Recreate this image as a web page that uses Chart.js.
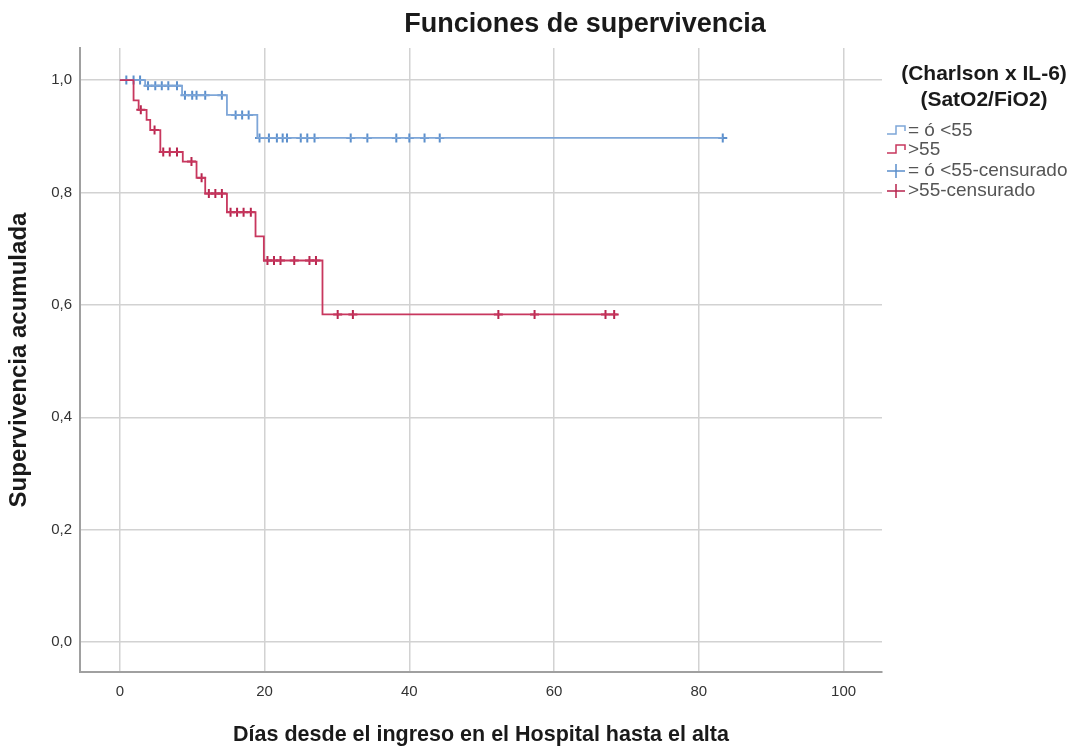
<!DOCTYPE html>
<html>
<head>
<meta charset="utf-8">
<script src="https://cdn.jsdelivr.net/npm/chart.js@4.4.1/dist/chart.umd.min.js"></script>
<style>
  html, body { margin: 0; padding: 0; background: #fff; }
</style>
</head>
<body>
<canvas id="graficoSupervivencia" width="1082" height="753"></canvas>
<script>
// grupo "= ó <55": tiempos de evento y supervivencia acumulada
const tiemposBajo = [0, 3.5, 8.6, 14.8, 19.0, 83.3];
const supervBajo = [1.0, 0.990, 0.973, 0.938, 0.897, 0.897];
const censuraBajo = [0.9, 1.9, 2.8, 3.9, 4.9, 5.8, 6.7, 7.9, 9.0, 10.0, 10.6, 11.8, 14.1,
    16.0, 16.9, 17.8, 19.3, 20.6, 21.7, 22.5, 23.1, 25.0, 25.9, 26.9, 31.9, 34.2, 38.2,
    40.0, 42.1, 44.2, 83.3];

// grupo ">55"
const tiemposAlto = [0, 1.9, 2.6, 3.7, 4.2, 5.6, 8.7, 10.6, 11.8, 14.8, 18.75, 19.9, 28.0, 68.75];
const supervAlto = [1.0, 0.964, 0.947, 0.929, 0.911, 0.872, 0.855, 0.826, 0.798, 0.765, 0.722, 0.679, 0.583, 0.583];
const censuraAlto = [2.9, 4.8, 6.0, 6.9, 7.9, 9.9, 11.3, 12.3, 13.2, 14.1, 15.3, 16.2, 17.1, 18.1,
    20.4, 21.3, 22.2, 24.1, 26.2, 27.1, 30.1, 32.2, 52.3, 57.3, 67.1, 68.3];

const ticksX = [0, 20, 40, 60, 80, 100];
const ticksY = [0, 0.2, 0.4, 0.6, 0.8, 1.0];
const etiquetas = ["= ó <55", ">55", "= ó <55-censurado", ">55-censurado"];

const azulLinea = "#7ea6d8";
const azulMarca = "#5b8fcc";
const rojoLinea = "#c8375e";
const rojoMarca = "#b8254e";

function supervEn(tiempos, superv, t) {
    let v = superv[0];
    for (let i = 0; i < tiempos.length; i++) {
        if (tiempos[i] <= t) v = superv[i];
    }
    return v;
}

function puntos(tiempos, superv) {
    return tiempos.map((t, i) => ({ x: t, y: superv[i] }));
}

function marcas(censuras, tiempos, superv) {
    return censuras.map(t => ({ x: t, y: supervEn(tiempos, superv, t) }));
}

const leyendaYTitulo = {
    id: "leyendaYTitulo",
    afterDraw(chart) {
        const ctx = chart.ctx;
        ctx.save();
        ctx.fillStyle = "#1a1a1a";
        ctx.textAlign = "center";
        ctx.textBaseline = "middle";
        ctx.font = "bold 27px 'Liberation Sans', Arial, sans-serif";
        ctx.fillText("Funciones de supervivencia", 585, 25);

        ctx.font = "bold 21px 'Liberation Sans', Arial, sans-serif";
        ctx.fillText("(Charlson x IL-6)", 984, 74);
        ctx.fillText("(SatO2/FiO2)", 984, 100);

        const filas = [131, 150, 171, 191];
        const colores = [azulLinea, rojoLinea, azulMarca, rojoMarca];
        ctx.font = "19px 'Liberation Sans', Arial, sans-serif";
        ctx.textAlign = "left";
        filas.forEach((y, i) => {
            ctx.strokeStyle = colores[i];
            ctx.lineWidth = 1.5;
            ctx.beginPath();
            if (i < 2) {
                ctx.moveTo(887, y + 3);
                ctx.lineTo(896, y + 3);
                ctx.lineTo(896, y - 5);
                ctx.lineTo(905, y - 5);
                ctx.lineTo(905, y);
            } else {
                ctx.moveTo(887, y);
                ctx.lineTo(905, y);
                ctx.moveTo(896, y - 7);
                ctx.lineTo(896, y + 7);
            }
            ctx.stroke();
            ctx.fillStyle = "#555";
            ctx.fillText(etiquetas[i], 908, y);
        });
        ctx.restore();
    }
};

new Chart(document.getElementById("graficoSupervivencia"), {
    type: "scatter",
    data: {
        datasets: [
            {
                label: etiquetas[1],
                data: puntos(tiemposAlto, supervAlto),
                showLine: true,
                stepped: true,
                borderColor: rojoLinea,
                borderWidth: 1.8,
                pointRadius: 0
            },
            {
                label: etiquetas[3],
                data: marcas(censuraAlto, tiemposAlto, supervAlto),
                pointStyle: "cross",
                pointRadius: 4.5,
                borderWidth: 2,
                borderColor: rojoMarca,
                backgroundColor: rojoMarca
            },
            {
                label: etiquetas[0],
                data: puntos(tiemposBajo, supervBajo),
                showLine: true,
                stepped: true,
                borderColor: azulLinea,
                borderWidth: 1.8,
                pointRadius: 0
            },
            {
                label: etiquetas[2],
                data: marcas(censuraBajo, tiemposBajo, supervBajo),
                pointStyle: "cross",
                pointRadius: 4.5,
                borderWidth: 2,
                borderColor: azulMarca,
                backgroundColor: azulMarca
            }
        ]
    },
    options: {
        responsive: false,
        animation: false,
        layout: { padding: { left: 5, right: 200, top: 48, bottom: 0 } },
        plugins: {
            legend: { display: false },
            title: { display: false },
            tooltip: { enabled: false }
        },
        scales: {
            x: {
                type: "linear",
                min: -5.5,
                max: 105.3,
                afterBuildTicks: s => { s.ticks = ticksX.map(v => ({ value: v })); },
                afterFit: s => { s.height = 81; },
                grid: { color: "#d2d2d2", lineWidth: 1.5, drawTicks: false },
                border: { display: true, color: "#a0a0a0", width: 2 },
                ticks: {
                    padding: 11,
                    color: "#333",
                    font: { family: "'Liberation Sans', Arial, sans-serif", size: 15 }
                },
                title: {
                    display: true,
                    text: "Días desde el ingreso en el Hospital hasta el alta",
                    color: "#1a1a1a",
                    padding: { top: 0, bottom: 5 },
                    font: { family: "'Liberation Sans', Arial, sans-serif", size: 21.5, weight: "bold" }
                }
            },
            y: {
                type: "linear",
                min: -0.053,
                max: 1.057,
                afterBuildTicks: s => { s.ticks = ticksY.map(v => ({ value: v })); },
                afterFit: s => { s.width = 75; },
                grid: { color: "#d2d2d2", lineWidth: 1.5, drawTicks: false },
                border: { display: true, color: "#a0a0a0", width: 2 },
                ticks: {
                    padding: 8,
                    color: "#333",
                    font: { family: "'Liberation Sans', Arial, sans-serif", size: 15 },
                    callback: v => v.toFixed(1).replace(".", ",")
                },
                title: {
                    display: true,
                    text: "Supervivencia acumulada",
                    color: "#1a1a1a",
                    padding: { top: 0, bottom: 0 },
                    font: { family: "'Liberation Sans', Arial, sans-serif", size: 24, weight: "bold" }
                }
            }
        }
    },
    plugins: [leyendaYTitulo]
});
</script>
</body>
</html>
